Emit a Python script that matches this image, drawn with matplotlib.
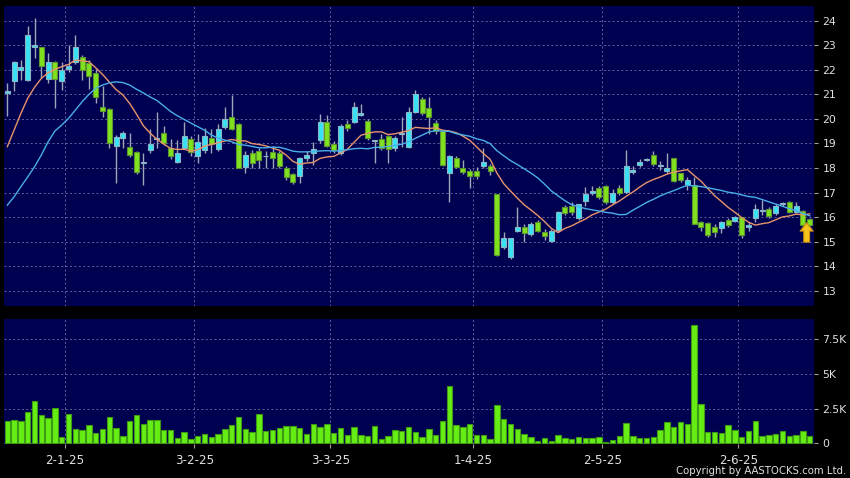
import numpy as np
import pandas as pd
import matplotlib
matplotlib.use("Agg")
import matplotlib.pyplot as plt

# daily bars, 17-12-24 .. 16-6-25
opens = [21.05, 21.55, 22.00, 21.60, 22.95, 22.92, 21.63, 22.30, 21.54, 22.03,
         22.31, 22.53, 22.26, 21.86, 20.50, 20.41, 18.90, 19.22, 18.84, 18.66,
         18.20, 18.72, 19.18, 19.41, 18.83, 18.26, 18.83, 19.18, 18.49, 18.73,
         19.23, 18.76, 19.68, 20.09, 19.78, 18.05, 18.60, 18.70, 18.47, 18.64,
         18.60, 18.01, 17.75, 17.67, 18.39, 18.60, 19.14, 19.89, 18.97, 18.60,
         19.79, 19.89, 20.16, 19.93, 19.10, 19.18, 19.30, 18.80, 19.38, 18.87,
         20.30, 20.80, 20.43, 19.82, 19.51, 17.78, 18.39, 18.01, 17.89, 17.89,
         18.10, 18.10, 16.93, 14.77, 14.36, 15.43, 15.61, 15.31, 15.81, 15.40,
         15.04, 15.47, 16.40, 16.45, 15.95, 16.65, 17.00, 17.20, 17.28, 16.60,
         17.20, 17.04, 17.82, 18.12, 18.33, 18.53, 18.08, 17.88, 18.39, 17.78,
         17.31, 17.31, 15.81, 15.77, 15.61, 15.54, 15.88, 15.85, 15.99, 15.61,
         15.95, 16.27, 16.32, 16.18, 16.52, 16.62, 16.20, 16.26, 15.91]
highs = [21.45, 22.35, 22.40, 23.80, 24.10, 22.95, 22.67, 22.35, 22.30, 23.00,
         23.42, 22.60, 22.40, 22.02, 21.34, 20.45, 19.35, 19.50, 19.41, 18.70,
         18.60, 19.60, 20.27, 19.71, 19.17, 19.14, 19.86, 19.30, 19.40, 19.64,
         19.61, 19.80, 20.50, 20.97, 19.85, 18.70, 18.73, 18.80, 18.70, 18.90,
         18.70, 18.10, 17.80, 18.45, 18.70, 19.08, 20.20, 20.18, 19.10, 19.80,
         19.95, 20.70, 20.60, 20.00, 19.15, 19.40, 19.35, 19.30, 20.09, 20.50,
         21.19, 20.90, 20.88, 19.95, 19.55, 18.55, 18.50, 18.34, 17.95, 18.05,
         18.80, 18.18, 16.95, 15.40, 15.15, 16.40, 15.70, 15.80, 15.90, 15.50,
         15.50, 16.25, 16.50, 16.60, 16.55, 17.23, 17.25, 17.28, 17.30, 17.15,
         17.30, 18.73, 18.10, 18.35, 18.40, 18.70, 18.30, 18.60, 18.40, 17.80,
         17.63, 17.63, 15.85, 15.80, 15.70, 15.85, 15.95, 16.05, 16.00, 15.80,
         16.53, 16.70, 16.40, 16.55, 16.60, 16.65, 16.60, 16.30, 15.95]
lows = [20.10, 21.15, 21.60, 21.55, 22.50, 21.65, 21.45, 20.43, 21.18, 21.90,
        22.25, 21.58, 21.20, 20.63, 20.09, 18.80, 17.40, 18.80, 18.46, 17.75,
        17.30, 18.60, 18.80, 18.95, 18.36, 18.20, 18.80, 18.49, 18.21, 18.60,
        18.60, 18.70, 19.60, 19.55, 18.00, 17.81, 18.02, 18.00, 18.00, 18.00,
        18.00, 17.50, 17.35, 17.40, 18.30, 18.12, 19.00, 18.85, 18.60, 18.55,
        19.50, 19.85, 20.10, 19.15, 18.19, 18.75, 18.19, 18.70, 18.87, 18.80,
        20.25, 20.15, 19.40, 19.40, 18.10, 16.60, 18.00, 17.75, 17.20, 17.55,
        18.00, 17.70, 14.40, 14.70, 14.30, 15.40, 15.00, 15.25, 15.40, 15.05,
        15.00, 15.40, 16.10, 16.10, 15.90, 16.45, 16.90, 16.75, 16.55, 16.55,
        16.90, 17.00, 17.75, 18.05, 18.30, 18.10, 17.90, 17.80, 17.45, 17.45,
        17.10, 15.70, 15.45, 15.18, 15.20, 15.35, 15.60, 15.80, 15.13, 15.45,
        15.80, 16.10, 15.95, 16.10, 16.45, 16.15, 16.15, 15.62, 15.62]
closes = [21.15, 22.30, 22.10, 23.40, 23.00, 22.17, 22.30, 21.62, 22.00, 22.17,
          22.92, 21.99, 21.75, 20.90, 20.32, 19.03, 19.25, 19.41, 18.52, 17.85,
          18.23, 18.96, 19.23, 19.00, 18.50, 18.62, 19.31, 18.66, 19.07, 19.31,
          18.96, 19.61, 19.98, 19.60, 18.02, 18.53, 18.21, 18.32, 18.50, 18.39,
          18.10, 17.62, 17.42, 18.42, 18.53, 18.76, 19.89, 18.90, 18.73, 19.73,
          19.62, 20.50, 20.26, 19.21, 19.12, 18.80, 18.76, 19.21, 19.41, 20.30,
          21.00, 20.23, 20.06, 19.51, 18.12, 18.50, 18.05, 17.82, 17.69, 17.69,
          18.25, 17.89, 14.45, 15.16, 15.13, 15.61, 15.34, 15.71, 15.45, 15.24,
          15.43, 16.20, 16.15, 16.22, 16.53, 16.93, 17.08, 16.83, 16.63, 17.00,
          17.00, 18.10, 17.92, 18.23, 18.35, 18.16, 18.10, 18.01, 17.47, 17.51,
          17.51, 15.72, 15.61, 15.27, 15.40, 15.81, 15.67, 16.01, 15.27, 15.68,
          16.32, 16.29, 16.04, 16.45, 16.55, 16.19, 16.44, 15.68, 15.68]
# volume in thousands
volumes = [1.59, 1.69, 1.61, 2.26, 3.08, 2.05, 1.85, 2.53, 0.48, 2.12,
           1.01, 0.96, 1.30, 0.75, 1.04, 1.88, 1.11, 0.55, 1.59, 2.07,
           1.42, 1.69, 1.69, 0.94, 0.94, 0.41, 0.79, 0.29, 0.51, 0.70,
           0.48, 0.67, 1.04, 1.30, 1.90, 1.04, 0.79, 2.14, 0.92, 0.99,
           1.10, 1.25, 1.28, 1.11, 0.67, 1.42, 1.18, 1.40, 0.75, 1.13,
           0.60, 1.18, 0.63, 0.55, 1.23, 0.34, 0.55, 0.96, 0.92, 1.20,
           0.79, 0.46, 1.04, 0.58, 1.64, 4.17, 1.32, 1.20, 1.42, 0.60,
           0.63, 0.34, 2.75, 1.78, 1.37, 1.06, 0.65, 0.48, 0.19, 0.41,
           0.14, 0.60, 0.41, 0.31, 0.46, 0.41, 0.36, 0.46, 0.10, 0.26,
           0.53, 1.47, 0.53, 0.39, 0.39, 0.46, 0.96, 1.52, 1.18, 1.52,
           1.42, 8.53, 2.82, 0.82, 0.82, 0.72, 1.30, 0.96, 0.48, 0.92,
           1.61, 0.53, 0.58, 0.67, 0.92, 0.53, 0.60, 0.89, 0.53]

# moving average values before enough closes exist
ma10_head = [18.87, 19.55, 20.23, 20.84, 21.29, 21.65, 21.88, 22.02, 22.13]
ma20_head = [16.49, 16.83, 17.24, 17.64, 18.05, 18.53, 19.07, 19.51, 19.75, 20.02,
             20.36, 20.70, 21.00, 21.25, 21.38, 21.47, 21.51, 21.48, 21.38]

# first bar of each month and its label
month_starts = [9, 28, 48, 69, 88, 108]
month_labels = ["2-1-25", "3-2-25", "3-3-25", "1-4-25", "2-5-25", "2-6-25"]
price_ticks = list(range(13, 25))
vol_ticks = [0, 2.5, 5, 7.5]
vol_labels = ["0", "2.5K", "5K", "7.5K"]

BG = "#000050"
GRID = "#60609c"
TXT = "#e0e0e0"

o = np.array(opens)
c = np.array(closes)
h = np.array(highs)
l = np.array(lows)
x = np.arange(len(c))

ma10 = pd.Series(c).rolling(10).mean().to_numpy()
ma10[:len(ma10_head)] = ma10_head
ma20 = pd.Series(c).rolling(20).mean().to_numpy()
ma20[:len(ma20_head)] = ma20_head

fig = plt.figure(figsize=(8.5, 4.78), dpi=100, facecolor="black")
ax1 = fig.add_axes([4 / 850, 1 - 306 / 478, 810 / 850, 300 / 478])
ax2 = fig.add_axes([4 / 850, 1 - 444 / 478, 810 / 850, 125 / 478])

grid_x = [m - 0.5 for m in month_starts]
for ax in (ax1, ax2):
    ax.set_facecolor(BG)
    for s in ax.spines.values():
        s.set_visible(False)
    ax.set_xlim(-0.49, 118.63)
    ax.set_xticks(grid_x)
    ax.grid(True, color=GRID, linestyle=(0, (2, 2.5)), linewidth=0.7)
    ax.set_axisbelow(True)
    ax.yaxis.tick_right()
    ax.tick_params(axis="y", colors="#a0a0a0", labelcolor=TXT, length=3,
                   pad=3, labelsize=7.8)

# candles: cyan = up, green = down
up = c >= o
body_lo = np.minimum(o, c)
body_h = np.maximum(np.abs(c - o), 0.04)
ax1.vlines(x, l, h, color="#9ea6b8", linewidth=1.0, zorder=2)
ax1.bar(x[up], body_h[up], bottom=body_lo[up], width=0.74,
        color="#38e2f4", edgecolor="#8cb4c4", linewidth=0.8, zorder=3)
ax1.bar(x[~up], body_h[~up], bottom=body_lo[~up], width=0.74,
        color="#80e21e", edgecolor="#5c9430", linewidth=0.8, zorder=3)

ax1.plot(x, ma10, color="#e8946c", linewidth=1.0, zorder=4)
ax1.plot(x, ma20, color="#4aaee8", linewidth=1.0, zorder=4)

# arrow marking the latest bar
ax1.annotate("", xy=(x[-1] - 0.45, 15.77), xytext=(x[-1] - 0.45, 14.98),
             arrowprops=dict(arrowstyle="simple,head_width=0.95,head_length=0.6,tail_width=0.42",
                             fc="#f6c41a", ec="#c88a10", lw=0.8,
                             shrinkA=0, shrinkB=0, mutation_scale=10),
             zorder=6)

ax1.set_ylim(12.38, 24.6)
ax1.set_yticks(price_ticks)
ax1.tick_params(axis="x", length=0, labelbottom=False)

# volume
ax2.bar(x, volumes, width=0.78, color="#66ee14", edgecolor="#3e9a12",
        linewidth=0.8, zorder=3)
ax2.set_ylim(-0.05, 8.98)
ax2.set_yticks(vol_ticks)
ax2.set_yticklabels(vol_labels)
ax2.set_xticklabels(month_labels)
ax2.tick_params(axis="x", colors="#a0a0a0", labelcolor=TXT, length=3,
                pad=4, labelsize=8.6)

fig.text(846 / 850, 2 / 478, "Copyright by AASTOCKS.com Ltd.", color=TXT,
         fontsize=7.3, ha="right", va="bottom")

fig.savefig("out.png", dpi=100, facecolor="black")
